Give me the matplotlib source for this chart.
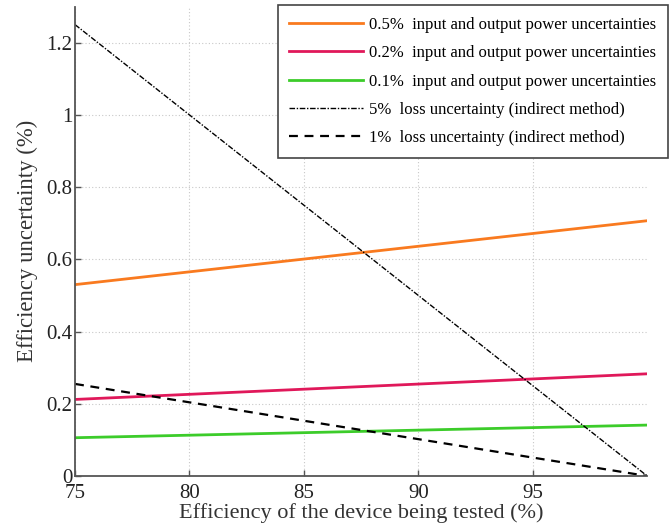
import matplotlib.pyplot as plt

plt.rcParams['font.family'] = ['Liberation Serif', 'DejaVu Serif']

# efficiency of the device (%)
eff = [75, 100]
# efficiency uncertainty (%)
unc_05 = [0.530, 0.707]
unc_02 = [0.212, 0.283]
unc_01 = [0.106, 0.141]
loss_5 = [1.25, 0.0]
loss_1 = [0.255, 0.0]

labels = ['0.5%  input and output power uncertainties',
          '0.2%  input and output power uncertainties',
          '0.1%  input and output power uncertainties',
          '5%  loss uncertainty (indirect method)',
          '1%  loss uncertainty (indirect method)']

xticks = [75, 80, 85, 90, 95]
yticks = [0, 0.2, 0.4, 0.6, 0.8, 1, 1.2]
ytick_labels = ['0', '0.2', '0.4', '0.6', '0.8', '1', '1.2']

fig = plt.figure(figsize=(6.7, 5.28), dpi=100)
ax = fig.add_axes([0.112, 0.0985, 0.854, 0.889])

ax.plot(eff, unc_05, color='#f97a1f', lw=2.0, label=labels[0])
ax.plot(eff, unc_02, color='#e0185a', lw=2.0, label=labels[1])
ax.plot(eff, unc_01, color='#3ccc2a', lw=2.0, label=labels[2])
ax.plot(eff, loss_5, color='black', lw=1.0, ls=(0, (4, 1.2, 1, 1.2)), label=labels[3])
ax.plot(eff, loss_1, color='black', lw=1.6, ls=(0, (4, 3)), label=labels[4])

ax.set_xlim(75, 100)
ax.set_ylim(0, 1.3)
ax.set_xticks(xticks)
ax.set_yticks(yticks)
ax.set_yticklabels(ytick_labels)
ax.grid(True, ls=(0, (1, 2)), color='#c8c8c8', lw=0.8)

for s in ['top', 'right']:
    ax.spines[s].set_visible(False)
for s in ['left', 'bottom']:
    ax.spines[s].set_color('#555555')
    ax.spines[s].set_linewidth(1.3)

ax.tick_params(direction='in', length=4, width=1, colors='#555555',
               labelcolor='#222222', labelsize=15)
ax.tick_params(axis='x', pad=6)
ax.tick_params(axis='y', pad=2)

ax.set_xlabel('Efficiency of the device being tested (%)', fontsize=16,
              color='#333333', labelpad=0)
ax.set_ylabel('Efficiency uncertainty (%)', fontsize=16.4, color='#333333',
              labelpad=6)

leg = ax.legend(loc='upper right', bbox_to_anchor=(0.997, 0.99),
                bbox_transform=fig.transFigure, fontsize=12,
                fancybox=False, framealpha=1, edgecolor='#444444',
                handlelength=4.4, handletextpad=0.4, labelspacing=0.74,
                borderpad=0.7, borderaxespad=0)
leg.get_frame().set_linewidth(1.2)

fig.savefig('out.png', dpi=100)
